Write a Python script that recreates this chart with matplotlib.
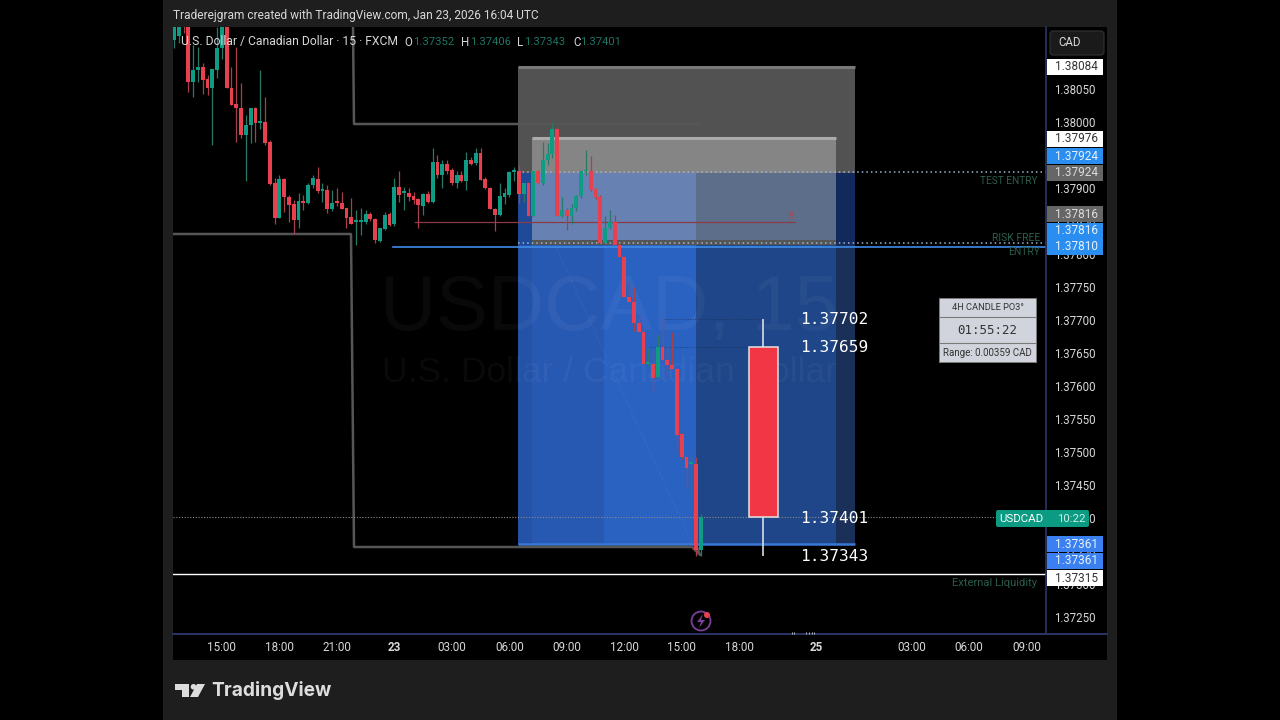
import numpy as np
import matplotlib
matplotlib.use("Agg")
import matplotlib.pyplot as plt
from matplotlib.patches import Rectangle, FancyBboxPatch, Polygon, Circle

plt.rcParams['font.family'] = ['Roboto', 'DejaVu Sans']

# ── Colours ──────────────────────────────────────────────────
UP = "#0f9c84"
DOWN = "#e8404f"
UP_WICK = "#2a7868"
DOWN_WICK = "#a8404c"
AXIS = "#2a3566"
FRAME = "#1e1e1e"
TXT = "#d8d8d8"
LABEL_GREEN = "#2b5c4d"
TAG_BLUE = "#2a8df0"
TAG_BLUE2 = "#3a80f0"
TAG_GRAY = "#666666"

# ── Data: USDCAD 15m candles ─────────────────────────────────
opens = [1.38124, 1.38130, 1.38175, 1.38170, 1.38061, 1.38079, 1.38084, 1.38065, 1.38051, 1.38079,
         1.38112, 1.38160, 1.38051, 1.38027, 1.38021, 1.37980, 1.37995, 1.38021, 1.37999, 1.38000,
         1.37969, 1.37907, 1.37855, 1.37914, 1.37887, 1.37876, 1.37852, 1.37880, 1.37878, 1.37904,
         1.37914, 1.37895, 1.37897, 1.37868, 1.37879, 1.37878, 1.37869, 1.37856, 1.37849, 1.37849,
         1.37849, 1.37861, 1.37853, 1.37820, 1.37838, 1.37860, 1.37845, 1.37901, 1.37893, 1.37893,
         1.37888, 1.37883, 1.37873, 1.37891, 1.37879, 1.37939, 1.37920, 1.37936, 1.37927, 1.37907,
         1.37919, 1.37911, 1.37943, 1.37938, 1.37953, 1.37914, 1.37900, 1.37868, 1.37859, 1.37887,
         1.37889, 1.37924, 1.37925, 1.37891, 1.37907, 1.37858, 1.37925, 1.37907, 1.37942, 1.37951,
         1.37990, 1.37858, 1.37867, 1.37858, 1.37869, 1.37888, 1.37925, 1.37925, 1.37898, 1.37886,
         1.37817, 1.37840, 1.37849, 1.37814, 1.37795, 1.37735, 1.37727, 1.37696, 1.37682, 1.37634,
         1.37634, 1.37613, 1.37659, 1.37639, 1.37632, 1.37626, 1.37527, 1.37493, 1.37482, 1.37482,
         1.37352]
highs = [1.38170, 1.38175, 1.38180, 1.38180, 1.38117, 1.38114, 1.38089, 1.38071, 1.38080, 1.38144,
         1.38170, 1.38170, 1.38084, 1.38114, 1.38059, 1.38011, 1.38021, 1.38022, 1.38079, 1.38038,
         1.37972, 1.37915, 1.37920, 1.37915, 1.37889, 1.37882, 1.37892, 1.37889, 1.37907, 1.37920,
         1.37932, 1.37907, 1.37905, 1.37897, 1.37900, 1.37894, 1.37870, 1.37885, 1.37867, 1.37869,
         1.37867, 1.37864, 1.37855, 1.37840, 1.37863, 1.37864, 1.37915, 1.37925, 1.37902, 1.37900,
         1.37894, 1.37885, 1.37893, 1.37895, 1.37960, 1.37950, 1.37942, 1.37942, 1.37930, 1.37925,
         1.37925, 1.37955, 1.37947, 1.37961, 1.37960, 1.37917, 1.37902, 1.37869, 1.37907, 1.37900,
         1.37926, 1.37932, 1.37935, 1.37908, 1.37909, 1.37925, 1.37928, 1.37969, 1.37968, 1.37998,
         1.37993, 1.37887, 1.37870, 1.37875, 1.37890, 1.37927, 1.37958, 1.37948, 1.37900, 1.37890,
         1.37857, 1.37867, 1.37859, 1.37816, 1.37797, 1.37761, 1.37750, 1.37707, 1.37690, 1.37657,
         1.37654, 1.37677, 1.37702, 1.37660, 1.37682, 1.37628, 1.37529, 1.37495, 1.37493, 1.37493,
         1.37406]
lows = [1.38112, 1.38120, 1.38135, 1.38046, 1.38038, 1.38061, 1.38043, 1.38041, 1.37965, 1.38066,
        1.38095, 1.38051, 1.38026, 1.37970, 1.37975, 1.37910, 1.37968, 1.37970, 1.37990, 1.37965,
        1.37905, 1.37845, 1.37855, 1.37864, 1.37849, 1.37831, 1.37839, 1.37867, 1.37875, 1.37900,
        1.37893, 1.37879, 1.37862, 1.37865, 1.37872, 1.37868, 1.37839, 1.37845, 1.37814, 1.37829,
        1.37845, 1.37850, 1.37816, 1.37818, 1.37836, 1.37842, 1.37843, 1.37879, 1.37867, 1.37880,
        1.37875, 1.37839, 1.37859, 1.37877, 1.37877, 1.37915, 1.37900, 1.37921, 1.37905, 1.37900,
        1.37909, 1.37897, 1.37935, 1.37935, 1.37912, 1.37899, 1.37868, 1.37835, 1.37857, 1.37875,
        1.37887, 1.37910, 1.37877, 1.37879, 1.37858, 1.37857, 1.37907, 1.37905, 1.37935, 1.37945,
        1.37858, 1.37856, 1.37836, 1.37846, 1.37865, 1.37885, 1.37920, 1.37896, 1.37884, 1.37817,
        1.37816, 1.37838, 1.37813, 1.37795, 1.37735, 1.37728, 1.37684, 1.37682, 1.37634, 1.37630,
        1.37591, 1.37612, 1.37638, 1.37612, 1.37625, 1.37500, 1.37490, 1.37445, 1.37432, 1.37343,
        1.37343]
closes = [1.38160, 1.38165, 1.38144, 1.38061, 1.38079, 1.38084, 1.38064, 1.38051, 1.38080, 1.38112,
          1.38160, 1.38051, 1.38026, 1.38021, 1.37980, 1.37995, 1.38021, 1.37999, 1.38000, 1.37968,
          1.37906, 1.37855, 1.37914, 1.37886, 1.37874, 1.37852, 1.37880, 1.37878, 1.37905, 1.37915,
          1.37895, 1.37896, 1.37868, 1.37878, 1.37878, 1.37868, 1.37855, 1.37846, 1.37849, 1.37850,
          1.37861, 1.37853, 1.37821, 1.37840, 1.37859, 1.37844, 1.37901, 1.37890, 1.37893, 1.37887,
          1.37882, 1.37874, 1.37891, 1.37879, 1.37939, 1.37920, 1.37936, 1.37926, 1.37907, 1.37919,
          1.37911, 1.37943, 1.37937, 1.37953, 1.37912, 1.37900, 1.37868, 1.37859, 1.37888, 1.37892,
          1.37924, 1.37924, 1.37891, 1.37908, 1.37858, 1.37925, 1.37907, 1.37942, 1.37951, 1.37990,
          1.37858, 1.37867, 1.37858, 1.37869, 1.37888, 1.37925, 1.37926, 1.37897, 1.37886, 1.37817,
          1.37840, 1.37849, 1.37814, 1.37795, 1.37735, 1.37728, 1.37696, 1.37682, 1.37634, 1.37634,
          1.37612, 1.37659, 1.37639, 1.37632, 1.37626, 1.37525, 1.37493, 1.37475, 1.37482, 1.37352,
          1.37401]

# 4H candle on the right
po3_open, po3_high, po3_low, po3_close = 1.37659, 1.37702, 1.37343, 1.37401

time_ticks = [10, 22, 34, 46, 58, 70, 82, 94, 106, 118, 134, 154, 166, 178]
time_labels = ["15:00", "18:00", "21:00", "23", "03:00", "06:00", "09:00", "12:00",
               "15:00", "18:00", "25", "03:00", "06:00", "09:00"]
price_ticks = [1.38050, 1.38000, 1.37950, 1.37900, 1.37850, 1.37800, 1.37750, 1.37700, 1.37650,
               1.37600, 1.37550, 1.37500, 1.37450, 1.37400, 1.37350, 1.37300, 1.37250]

# price tags on the scale: text, top pixel, background, text colour
tag_text = ["1.38084", "1.37976", "1.37924", "1.37924", "1.37816", "1.37816", "1.37810",
            "1.37361", "1.37361", "1.37315"]
tag_top = [59, 131, 148, 165, 206, 223, 239, 536, 553, 570]
tag_bg = ["white", "white", TAG_BLUE, TAG_GRAY, TAG_GRAY, TAG_BLUE, TAG_BLUE,
          TAG_BLUE2, TAG_BLUE2, "white"]
tag_fg = ["#333333", "#333333", "#e8f2ff", "#dddddd", "#dddddd", "#e8f2ff", "#e8f2ff",
          "#e8f2ff", "#e8f2ff", "#333333"]

# ── Canvas ───────────────────────────────────────────────────
fig = plt.figure(figsize=(12.8, 7.2), dpi=100, facecolor="black")
W, H = 1280.0, 720.0
L, R, T, B = 173.0, 1046.0, 27.0, 634.0

ax = fig.add_axes([L / W, 1 - B / H, (R - L) / W, (B - T) / H], facecolor="black", zorder=2)
x_left, x_step = 174.0, 4.79
ax.set_xlim((L - x_left) / x_step, (R - x_left) / x_step)
ax.set_ylim(1.38 - (B - 122) / 66000, 1.38 - (T - 122) / 66000)


def xd(px):
    return (px - x_left) / x_step


def yd(py):
    return 1.38 - (py - 122) / 66000


# back layer in plain pixels for the frame and the scales
bg = fig.add_axes([0, 0, 1, 1], zorder=1)
bg.set_xlim(0, W)
bg.set_ylim(H, 0)
bg.axis("off")
bg.add_patch(Rectangle((163, 0), 954, 720, fc=FRAME, ec="none"))
bg.add_patch(Rectangle((173, 27), 934, 633, fc="black", ec="none"))

# top layer in plain pixels for tags and widgets
top = fig.add_axes([0, 0, 1, 1], zorder=3)
top.set_xlim(0, W)
top.set_ylim(H, 0)
top.axis("off")
top.patch.set_alpha(0)

# ── Position tool boxes ──────────────────────────────────────
boxes = [
    (518, 67, 855, 173, "#525252"),
    (532, 138, 836, 173, "#858585"),
    (518, 173, 532, 245, "#1f4a98"),
    (532, 173, 696, 245, "#6681b2"),
    (696, 173, 836, 245, "#5c6e8a"),
    (836, 173, 855, 245, "#12295c"),
    (532, 240, 836, 245, "#555555"),
    (518, 245, 532, 545, "#2352a6"),
    (532, 245, 604, 545, "#2859b2"),
    (604, 245, 696, 545, "#2a62c2"),
    (696, 245, 836, 545, "#1f4688"),
    (836, 245, 855, 545, "#1a3058"),
]
for x0, y0, x1, y1, col in boxes:
    ax.add_patch(Rectangle((xd(x0), yd(y1)), xd(x1) - xd(x0), yd(y0) - yd(y1),
                           fc=col, ec="none", zorder=1))
ax.plot([xd(518), xd(855)], [yd(67), yd(67)], color="#787878", lw=2.2, zorder=1.5, solid_capstyle="butt")
ax.plot([xd(532), xd(836)], [yd(138), yd(138)], color="#ababab", lw=2.2, zorder=1.5, solid_capstyle="butt")
ax.plot([xd(518), xd(855)], [1.37361, 1.37361], color="#3a78d8", lw=1.8, zorder=1.5, solid_capstyle="butt")

# watermark
ax.text(xd(609), yd(310), "USDCAD, 15", color="white", alpha=0.04, fontsize=56,
        family="Liberation Sans", ha="center", va="center", zorder=1.6)
ax.text(xd(610), yd(373), "U.S. Dollar / Canadian Dollar", color="white", alpha=0.04,
        fontsize=25.5, family="Liberation Sans", ha="center", va="center", zorder=1.6)

# gray range lines
ax.plot([xd(173), xd(351), xd(354), xd(692), xd(700), xd(697)],
        [yd(234), yd(234), yd(547), yd(547), yd(555), yd(547)],
        color="#565656", lw=1.8, zorder=2)
ax.plot([xd(353), xd(354), xd(700)], [yd(27), yd(124), yd(124)],
        color="#565656", lw=1.8, zorder=2)
ax.plot([xd(555), xd(695)], [yd(245), yd(550)], color="#8aa8dc", lw=0.7, ls=":", alpha=0.22, zorder=2)

# levels
ax.plot([xd(415), xd(795)], [1.37848, 1.37848], color="#8d3a48", lw=0.9, zorder=2)
ax.text(xd(791), 1.37857, "8", color="#a84a58", fontsize=7, ha="center", va="center", zorder=2)
ax.plot([xd(393), xd(R)], [1.37810, 1.37810], color="#3f8ce8", lw=1.2, zorder=2)
ax.plot([xd(518), xd(R)], [1.37924, 1.37924], color="#9fb6cf", lw=1.1, ls=(0, (1, 2)), zorder=2)
ax.plot([xd(518), xd(R)], [1.37816, 1.37816], color="#9fb6cf", lw=1.1, ls=(0, (1, 2)), zorder=2)
ax.plot([xd(L), xd(R)], [1.37401, 1.37401], color="#8a8a8a", lw=0.8, ls=(0, (1, 1.5)), zorder=2)
ax.plot([xd(L), xd(R)], [1.37315, 1.37315], color="white", lw=1.0, zorder=2)
ax.plot([xd(663), xd(762)], [1.37702, 1.37702], color="#16264a", lw=0.7, ls=(0, (1, 1.5)), alpha=0.6, zorder=2)
ax.plot([xd(650), xd(750)], [po3_open, po3_open], color="#16264a", lw=0.7, ls=(0, (1, 1.5)), alpha=0.6, zorder=2)

# ── Candles ──────────────────────────────────────────────────
o = np.array(opens)
h = np.array(highs)
l = np.array(lows)
c = np.array(closes)
idx = np.arange(len(o))
is_up = c >= o
ax.vlines(idx[is_up], l[is_up], h[is_up], color=UP_WICK, lw=0.9, zorder=3)
ax.vlines(idx[~is_up], l[~is_up], h[~is_up], color=DOWN_WICK, lw=0.9, zorder=3)
body_low = np.minimum(o, c)
body_h = np.maximum(np.abs(c - o), 0.00003)
ax.bar(idx[is_up], body_h[is_up], bottom=body_low[is_up], width=0.8, color=UP, zorder=4)
ax.bar(idx[~is_up], body_h[~is_up], bottom=body_low[~is_up], width=0.8, color=DOWN, zorder=4)

# 4H candle
po3_x = xd(763)
ax.vlines(po3_x, po3_low, po3_high, color="#d8dce6", lw=1.2, zorder=4)
ax.bar(po3_x, po3_open - po3_close, bottom=po3_close, width=29 / x_step, color="#f23645",
       edgecolor="#e4e4e4", linewidth=1.1, zorder=5)
for val, txt_y in zip([po3_high, po3_open, po3_close, po3_low], [319.5, 348, 519, 556.5]):
    ax.text(xd(800), yd(txt_y), f"{val:.5f}", color="white", fontsize=11.6,
            family="DejaVu Sans Mono", ha="left", va="center", zorder=6)

# labels on levels
for txt, px, py, fs in [("TEST ENTRY", 1037, 181, 7.3), ("RISK FREE", 1040, 238, 7.5),
                        ("ENTRY", 1040, 252, 7.5), ("External Liquidity", 1037, 583, 8.1)]:
    ax.text(xd(px), yd(py), txt, color=LABEL_GREEN, fontsize=fs, ha="right", va="center", zorder=6)

# ── Axes ─────────────────────────────────────────────────────
ax.set_xticks(time_ticks)
ax.set_xticklabels(time_labels, fontsize=8.4, color=TXT)
for lab, txt in zip(ax.get_xticklabels(), time_labels):
    if len(txt) == 2:
        lab.set_fontweight("bold")
ax.yaxis.tick_right()
ax.set_yticks(price_ticks)
ax.set_yticklabels([f"{p:.5f}" for p in price_ticks], fontsize=8.3, color=TXT)
ax.tick_params(axis="x", length=0, pad=5)
ax.tick_params(axis="y", length=0, pad=6)
for side in ["left", "top"]:
    ax.spines[side].set_visible(False)
ax.spines["right"].set_color(AXIS)
ax.spines["right"].set_linewidth(1.2)
ax.spines["bottom"].set_visible(False)
top.plot([173, 1107], [634, 634], color=AXIS, lw=1.4)
top.vlines([792, 794, 806, 809, 812, 814], 632, 634, color="#bbbbbb", lw=0.7)

# ── Scale tags and widgets ───────────────────────────────────
top.add_patch(FancyBboxPatch((1052, 33), 50, 20, boxstyle="round,pad=2,rounding_size=3",
                             fc="#1a1a1a", ec="#333333", lw=0.8))
top.text(1070, 43, "CAD", color=TXT, fontsize=8.3, ha="center", va="center")

for txt, y0, col, fg in zip(tag_text, tag_top, tag_bg, tag_fg):
    top.add_patch(Rectangle((1047, y0), 56, 16, fc=col, ec="none"))
    top.text(1098, y0 + 8, txt, color=fg, fontsize=8.5, ha="right", va="center")

top.add_patch(FancyBboxPatch((997, 511), 91, 15, boxstyle="round,pad=1,rounding_size=2",
                             fc="#0a9b82", ec="none"))
top.text(1021, 518.5, "USDCAD", color="white", fontsize=8.2, ha="center", va="center")
top.text(1071, 518.5, "10:22", color="#cdeee6", fontsize=8.2, ha="center", va="center")

# info box
top.add_patch(Rectangle((939, 298), 97, 64, fc="#d1d4dc", ec="#7a7a7a", lw=0.7))
top.plot([939, 1036], [317, 317], color="#7a7a7a", lw=0.8)
top.plot([939, 1036], [343, 343], color="#7a7a7a", lw=0.8)
top.text(987.5, 308, "4H CANDLE PO3°", color="#333333", fontsize=6.7, ha="center", va="center")
top.text(987.5, 330, "01:55:22", color="#333333", fontsize=9, family="DejaVu Sans Mono",
         ha="center", va="center")
top.text(987.5, 353.5, "Range: 0.00359 CAD", color="#333333", fontsize=7.0, ha="center", va="center")

# alert icon
top.add_patch(Circle((701, 621), 9.5, fc="none", ec="#7b3f98", lw=1.3))
top.add_patch(Polygon([(703, 614), (697, 622), (701, 622), (699, 628), (705, 620), (701, 620)],
                      fc="#7b3f98", ec="none"))
top.add_patch(Circle((707, 615), 3, fc="#e8404f", ec="none"))

# ── Header and legend ────────────────────────────────────────
top.text(173, 16, "Traderejgram created with TradingView.com, Jan 23, 2026 16:04 UTC",
         color=TXT, fontsize=8.6, ha="left", va="center")
top.text(181, 42, "U.S. Dollar / Canadian Dollar · 15 · FXCM", color=TXT, fontsize=8.7,
         ha="left", va="center")
for letter, val, px in [("O", opens[-1], 404), ("H", highs[-1], 461),
                        ("L", lows[-1], 517), ("C", closes[-1], 573)]:
    top.text(px, 42, letter, color=TXT, fontsize=8.3, ha="left", va="center")
    top.text(px + (9 if letter in "OH" else 7), 42, f"{val:.5f}", color="#1d7363", fontsize=8.1,
             ha="left", va="center")

# ── TradingView logo ─────────────────────────────────────────
top.add_patch(Polygon([(175, 684), (189, 684), (189, 697), (182, 697), (182, 690), (175, 690)],
                      fc="#dddddd", ec="none"))
top.add_patch(Circle((193.5, 686.8), 2.8, fc="#dddddd", ec="none"))
top.add_patch(Polygon([(197, 684), (205, 684), (198, 697), (190, 697)], fc="#dddddd", ec="none"))
top.text(211, 691, "TradingView", color="#dddddd", fontsize=13.8, fontweight="bold",
         family="Inter", ha="left", va="center")

fig.savefig("out.png", dpi=100, facecolor="black")
